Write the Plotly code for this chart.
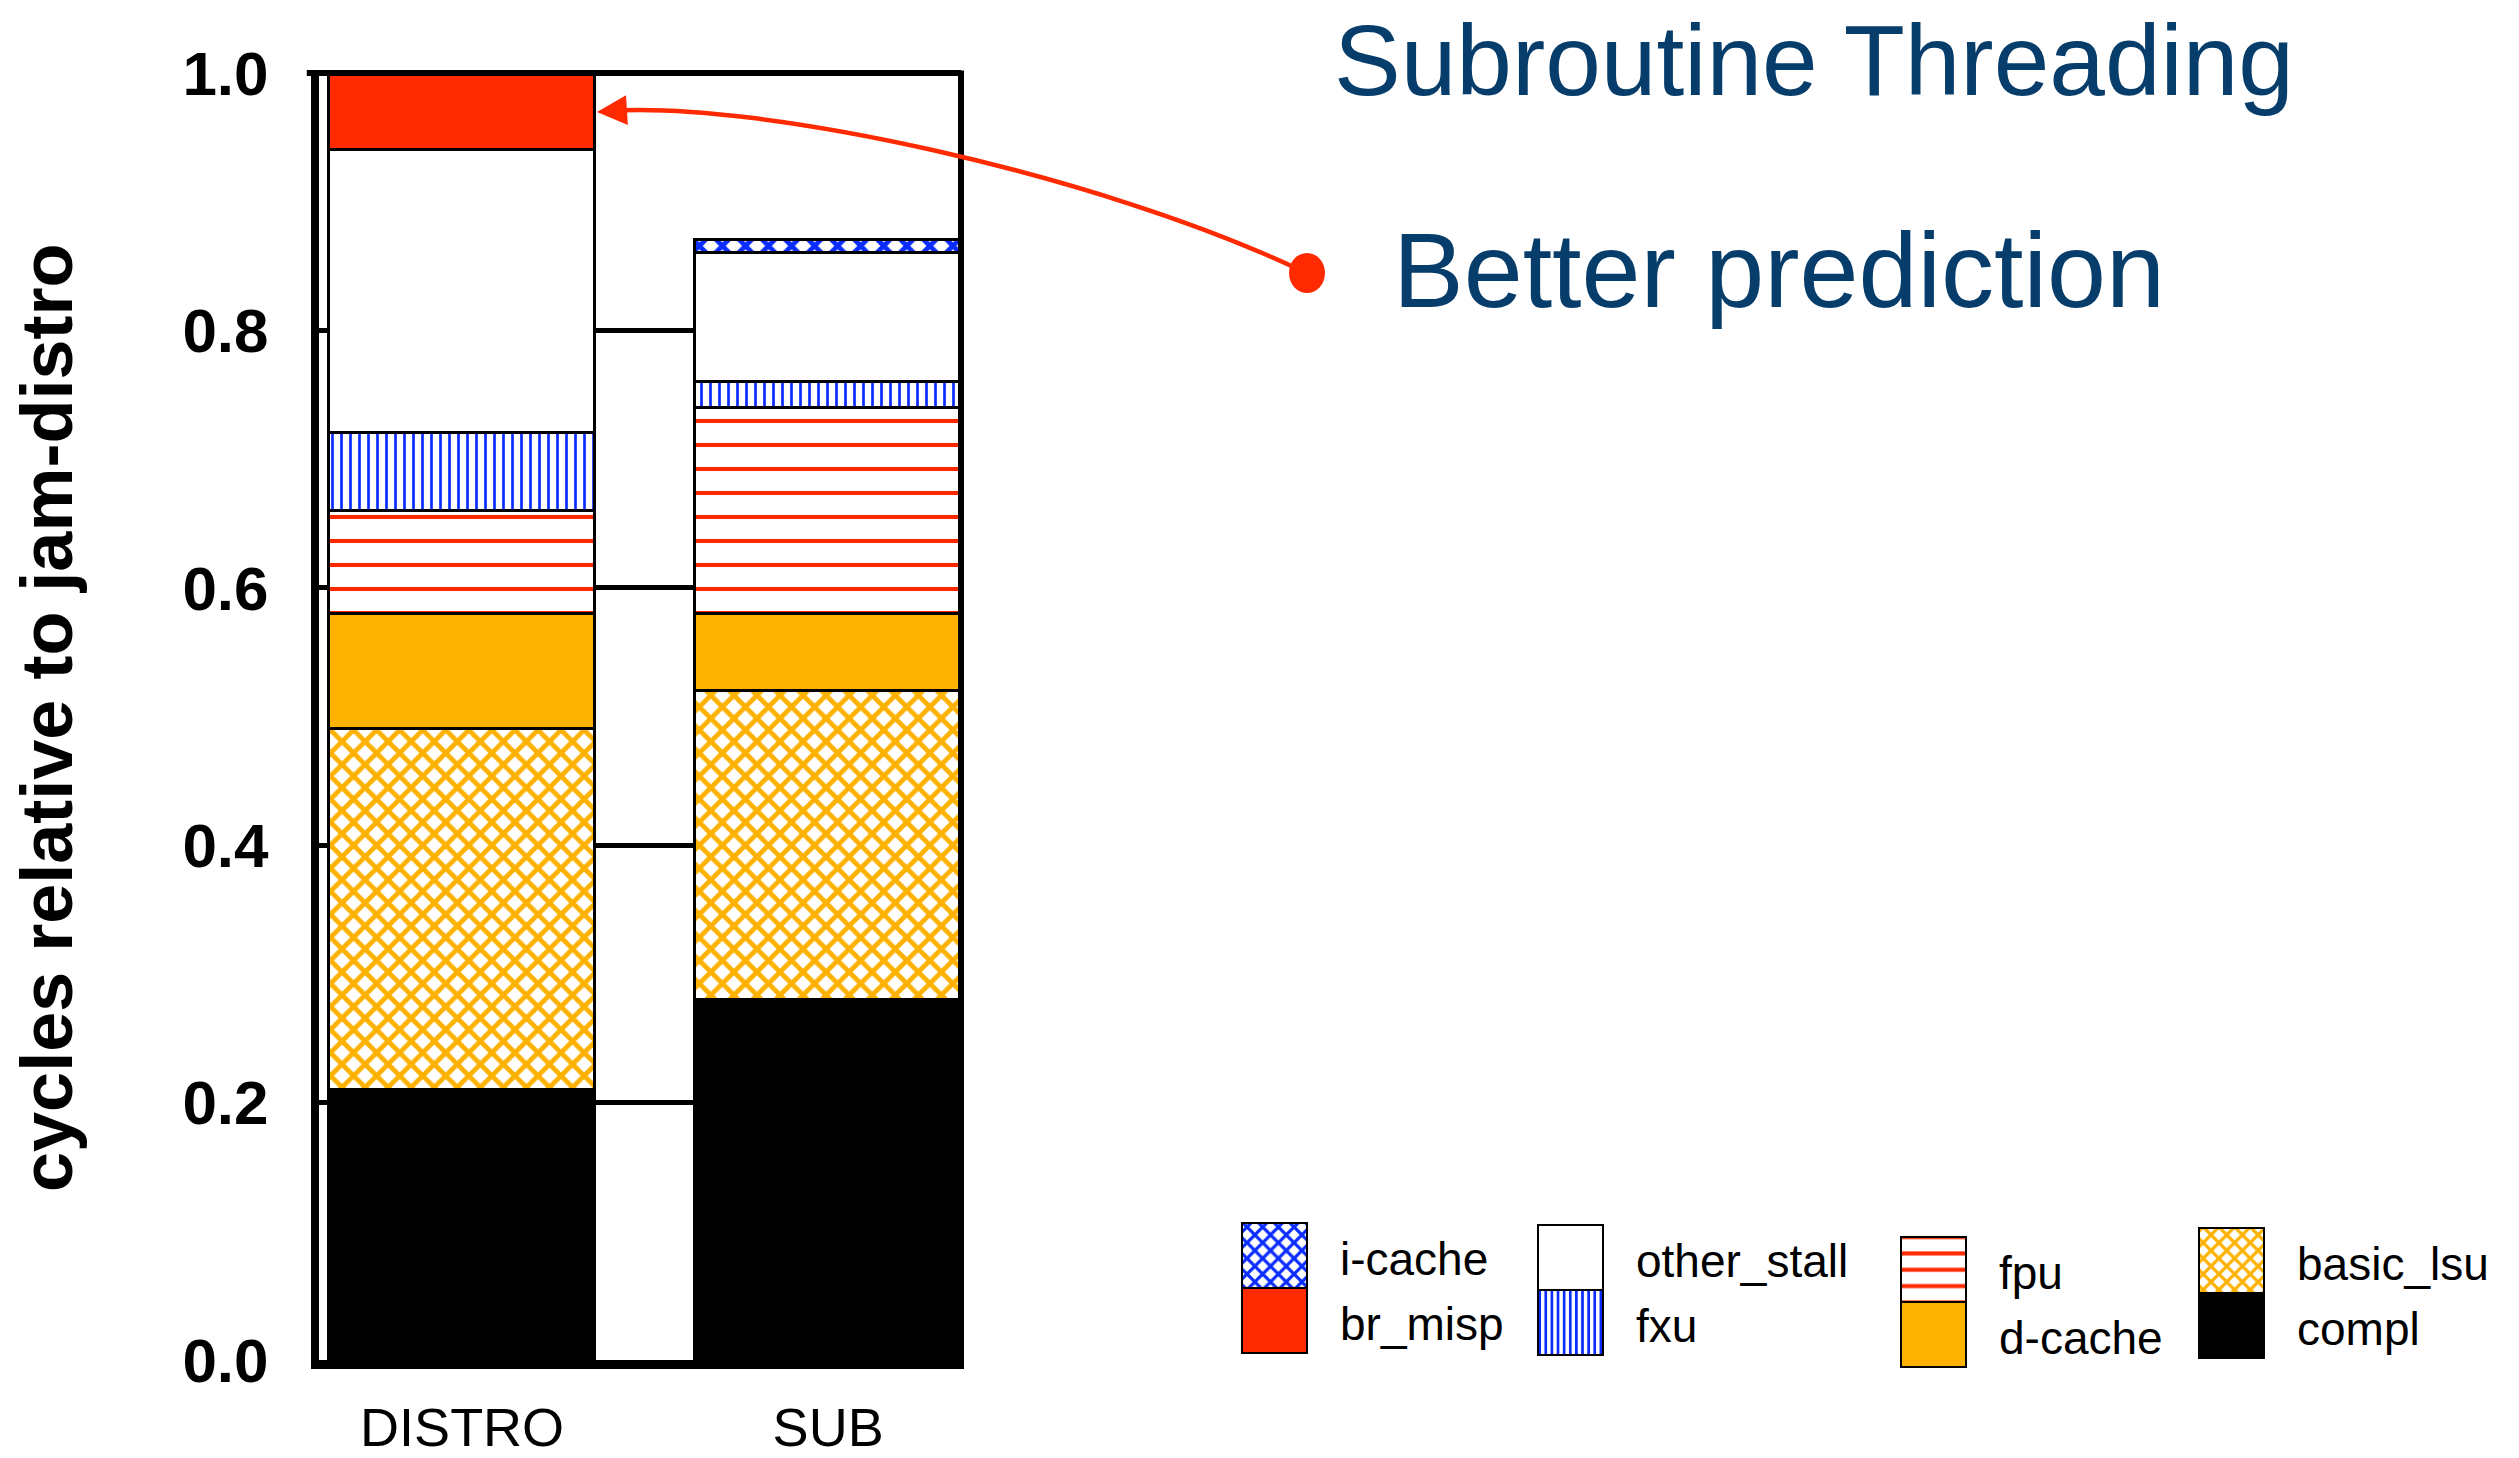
import plotly.graph_objects as go

W, H = 2519, 1458
FONT = "Liberation Sans, Arial, Helvetica, sans-serif"

# ---- data -------------------------------------------------------------
categories = ["DISTRO", "SUB"]
components = ["compl", "basic_lsu", "d-cache", "fpu", "fxu", "other_stall", "br_misp", "i-cache"]
compl = [0.21, 0.28]
basic_lsu = [0.28, 0.24]
d_cache = [0.09, 0.06]
fpu = [0.08, 0.16]
fxu = [0.06, 0.02]
other_stall = [0.22, 0.10]
br_misp = [0.06, 0.00]
i_cache = [0.00, 0.01]
y_ticks = [0.0, 0.2, 0.4, 0.6, 0.8, 1.0]

series = {
    "compl": compl,
    "basic_lsu": basic_lsu,
    "d-cache": d_cache,
    "fpu": fpu,
    "fxu": fxu,
    "other_stall": other_stall,
    "br_misp": br_misp,
    "i-cache": i_cache,
}

# legend arrangement: (top swatch, bottom swatch) per column
legend_cols = [("i-cache", "br_misp"), ("other_stall", "fxu"), ("fpu", "d-cache"), ("basic_lsu", "compl")]

# ---- styles -----------------------------------------------------------
RED = "#FF2A00"
ORANGE = "#FDB100"
BLUE = "#0A2CFF"
NAVY = "#073D6A"


def fill_style(name, scale=1.0):
    """Marker fill (solid colour or hatch pattern) for one component."""
    if name == "compl":
        return dict(color="black")
    if name == "d-cache":
        return dict(color=ORANGE)
    if name == "br_misp":
        return dict(color=RED)
    if name == "other_stall":
        return dict(color="white")
    if name == "basic_lsu":
        return dict(color="white", pattern=dict(shape="x", fgcolor=ORANGE, bgcolor="white",
                                                fgopacity=1, size=16.3 * scale, solidity=0.5))
    if name == "i-cache":
        return dict(color="white", pattern=dict(shape="x", fgcolor=BLUE, bgcolor="white",
                                                fgopacity=1, size=16.3 * scale, solidity=0.5))
    if name == "fpu":
        return dict(color="white", pattern=dict(shape="-", fgcolor=RED, bgcolor="white",
                                                fgopacity=1, size=24 * scale, solidity=0.17 / scale))
    if name == "fxu":
        return dict(color="white", pattern=dict(shape="|", fgcolor=BLUE, bgcolor="white",
                                                fgopacity=1, size=9 * scale, solidity=0.3 / scale))
    return dict(color="white")


def px(x):
    return x / W


def py(y):
    return 1 - y / H


fig = go.Figure()

# ---- stacked bars ------------------------------------------------------
for name in components:
    m = fill_style(name)
    m["line"] = dict(color="black", width=3)
    fig.add_trace(go.Bar(
        x=categories, y=series[name], name=name, width=0.727,
        marker=m, showlegend=False, hoverinfo="skip",
    ))

# ---- hand-laid legend: swatch columns drawn as bars on a helper axis ---
SW = 65
col_left = [1242, 1538, 1901, 2199]
col_top = [1223, 1225, 1237, 1228]
label_gap = 31
annotations = []
for (top_name, bot_name), left, top in zip(legend_cols, col_left, col_top):
    for k, name in enumerate((top_name, bot_name)):
        m = fill_style(name, scale=0.68)
        m["line"] = dict(color="black", width=2)
        fig.add_trace(go.Bar(
            x=[left + SW / 2], y=[SW], base=[top + k * SW], width=SW,
            marker=m, xaxis="x2", yaxis="y2", showlegend=False, hoverinfo="skip",
        ))
        annotations.append(dict(
            x=left + SW + label_gap, y=top + k * SW + SW / 2 + 3, xref="x2", yref="y2",
            text=name, showarrow=False, xanchor="left", yanchor="middle",
            font=dict(family=FONT, size=46, color="black"),
        ))

# ---- titles and call-out ----------------------------------------------
annotations += [
    dict(x=px(47), y=py(718), xref="paper", yref="paper", text="cycles relative to jam-distro",
         textangle=-90, showarrow=False, xanchor="center", yanchor="middle",
         font=dict(family=FONT, size=72, color="black", weight="bold")),
    dict(x=px(1814), y=py(60), xref="paper", yref="paper", text="Subroutine Threading",
         showarrow=False, xanchor="center", yanchor="middle",
         font=dict(family=FONT, size=100, color=NAVY)),
    dict(x=px(1779), y=py(270), xref="paper", yref="paper", text="Better prediction",
         showarrow=False, xanchor="center", yanchor="middle",
         font=dict(family=FONT, size=106, color=NAVY)),
    dict(x=px(597), y=py(112), xref="paper", yref="paper", text="",
         showarrow=True, ax=32, ay=-2, arrowhead=2, arrowsize=1.5, arrowwidth=4,
         arrowcolor=RED, standoff=0),
]

shapes = [
    # top and right frame lines
    dict(type="line", xref="x domain", yref="y domain", x0=-0.019, x1=1.0, y0=1, y1=1,
         line=dict(color="black", width=6), layer="above"),
    dict(type="line", xref="x domain", yref="y domain", x0=1.0, x1=1.0, y0=-0.007, y1=1.002,
         line=dict(color="black", width=6), layer="above"),
    # curved call-out line
    dict(type="path", xref="paper", yref="paper",
         path=f"M {px(606)},{py(111)} C {px(760)},{py(100)} {px(1100)},{py(175)} {px(1300)},{py(270)}",
         line=dict(color=RED, width=4.5), layer="above"),
    dict(type="circle", xref="paper", yref="paper", xsizemode="pixel", ysizemode="pixel",
         xanchor=px(1307), yanchor=py(273), x0=-18, x1=18, y0=-20, y1=20,
         fillcolor=RED, line=dict(width=0), layer="above"),
]

fig.update_layout(
    width=W, height=H,
    margin=dict(l=0, r=0, t=0, b=0, pad=0, autoexpand=False),
    paper_bgcolor="white", plot_bgcolor="white",
    barmode="stack", bargap=0,
    showlegend=False,
    font=dict(family=FONT, color="black"),
    xaxis=dict(
        domain=[px(319), px(961)], range=[-0.391, 1.363],
        categoryorder="array", categoryarray=categories,
        showline=True, linecolor="black", linewidth=9,
        showgrid=False, zeroline=False, ticks="",
        tickfont=dict(family=FONT, size=54, color="black"),
        ticklabelstandoff=12, automargin=False, fixedrange=True,
    ),
    yaxis=dict(
        domain=[py(1360), py(73)], range=[0, 1],
        tickvals=y_ticks, tickformat=".1f",
        showline=True, linecolor="black", linewidth=8,
        showgrid=True, gridcolor="black", gridwidth=5,
        zeroline=False, ticks="",
        tickfont=dict(family=FONT, size=62, color="black", weight="bold"),
        ticklabelstandoff=30, automargin=False, fixedrange=True,
    ),
    xaxis2=dict(domain=[px(1200), px(2400)], range=[1200, 2400], visible=False,
                anchor="y2", automargin=False, fixedrange=True),
    yaxis2=dict(domain=[0, py(1180)], range=[1458, 1180], visible=False,
                anchor="x2", automargin=False, fixedrange=True),
    annotations=annotations,
    shapes=shapes,
)

fig.write_html("out.html")
